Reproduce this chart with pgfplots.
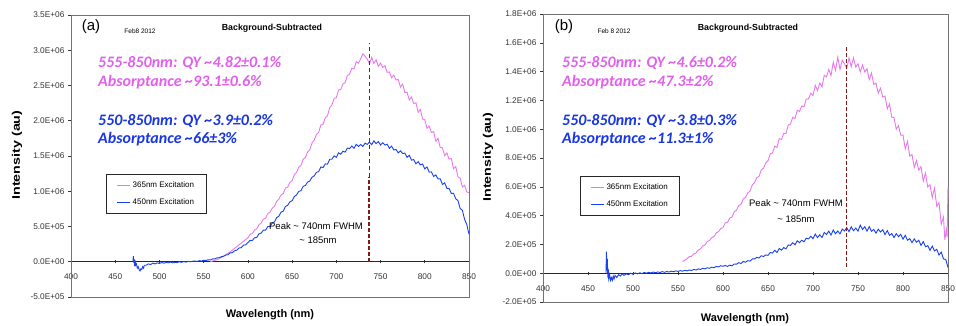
\documentclass[border=0pt]{standalone}
\usepackage{fontspec}
\setmainfont{Liberation Sans}
\newfontfamily\calibri{Carlito}
\usepackage{pgfplots}
\pgfplotsset{compat=1.18}
\definecolor{pinkline}{RGB}{232,120,236}
\definecolor{blueline}{RGB}{25,65,240}
\definecolor{pinktext}{RGB}{225,95,235}
\definecolor{bluetext}{RGB}{25,55,225}
\definecolor{darkred}{RGB}{130,25,25}
\pgfplotsset{
  panel/.style={
    scale only axis, clip=false,
    xmin=400, xmax=850,
    axis x line=middle, axis y line=left,
    axis line style={-, line width=0.9pt, black!85},
    hide obscured x ticks=false, hide obscured y ticks=false,
    xtick={400,450,500,550,600,650,700,750,800,850},
    xticklabels={400,450,500,550,600,650,700,750,800,850},
    tick label style={font=\fontsize{8.3}{9}\selectfont, text=black!80},
    xticklabel style={yshift=-7pt},
    xtick align=center, ytick align=outside, major tick length=3pt,
    tick style={black!80, line width=0.6pt},
    legend style={draw=black!85, line width=0.9pt, font=\fontsize{8}{9}\selectfont,
      inner xsep=10pt, inner ysep=5pt, row sep=6pt, cells={anchor=west}, fill=white},
    legend image code/.code={\draw[#1, line width=1.2pt] (0pt,0pt) -- (13pt,0pt);},
  }
}
\begin{document}
\begin{tikzpicture}
\useasboundingbox (0,0) rectangle (956pt,325pt);
% ---------------- panel (a) ----------------
\begin{axis}[panel, at={(71pt,28pt)}, anchor=south west, width=398pt, height=282pt,
  ymin=-0.5, ymax=3.5,
  ytick={-0.5,0,0.5,1,1.5,2,2.5,3,3.5},
  yticklabels={-5.0E+05,0.0E+00,5.0E+05,1.0E+06,1.5E+06,2.0E+06,2.5E+06,3.0E+06,3.5E+06},
  legend style={at={(rel axis cs:0.088,0.436)}, anchor=north west}]
\draw[black!55, line width=0.8pt] (rel axis cs:0,0) rectangle (rel axis cs:1,1);
\addplot[pinkline, line width=0.9pt] coordinates {
(557.5,0.00)(560,0.01)(562.5,0.02)(565,0.03)(567.5,0.045)(570,0.06)(572.5,0.08)(575,0.10)
(577.5,0.12)(580,0.14)(582.5,0.165)(585,0.19)(587.5,0.215)(590,0.24)(592.5,0.265)(595,0.29)
(597.5,0.315)(600,0.34)(602.5,0.39)(605,0.40)(607.5,0.45)(610,0.465)(612.5,0.525)(615,0.547)
(617.5,0.603)(620,0.618)(622.5,0.685)(625,0.701)(627.5,0.76)(630,0.785)(632.5,0.855)(635,0.887)
(637.5,0.948)(640,0.968)(642.5,1.045)(645,1.058)(647.5,1.126)(650,1.15)(652.5,1.234)(655,1.266)
(657.5,1.343)(660,1.364)(662.5,1.455)(665,1.478)(667.5,1.556)(670,1.59)(672.5,1.684)(675,1.726)
(677.5,1.808)(680,1.834)(682.5,1.94)(685,1.952)(687.5,2.044)(690,2.07)(692.5,2.186)(695,2.224)
(697.5,2.317)(700,2.326)(702.5,2.435)(705,2.442)(707.5,2.524)(710,2.54)(712.5,2.641)(715,2.664)
(717.5,2.742)(720,2.736)(722.5,2.84)(725,2.816)(727.5,2.877)(730,2.95)(732.5,2.913)(735,2.872)
(737.5,2.81)(740,2.90)(742.5,2.813)(745,2.866)(747.5,2.77)(750,2.818)(752.5,2.757)(755,2.78)
(757.5,2.686)(760,2.692)(762.5,2.61)(765,2.648)(767.5,2.577)(770,2.586)(772.5,2.478)(775,2.52)
(777.5,2.40)(780,2.405)(782.5,2.295)(785,2.335)(787.5,2.245)(790,2.255)(792.5,2.12)(795,2.16)
(797.5,2.025)(800,2.015)(802.5,1.895)(805,1.925)(807.5,1.835)(810,1.845)(812.5,1.71)(815,1.75)
(817.5,1.62)(820,1.615)(822.5,1.505)(825,1.545)(827.5,1.455)(830,1.465)(832.5,1.32)(835,1.35)
(837.5,1.205)(840,1.185)(842.5,1.06)(845,1.085)(847.5,0.99)(850,0.98)};
\addlegendentry{365nm Excitation}
\addplot[blueline, line width=0.9pt] coordinates {
(470,0.0)(470.5,0.08)(471,-0.02)(471.5,0.04)(472,-0.06)(472.5,0.02)(473,-0.05)(474,-0.03)
(475,-0.09)(476,-0.07)(477,-0.11)(478,-0.13)(479,-0.10)(480,-0.11)(481,-0.07)(482,-0.09)
(483,-0.05)(485,-0.05)(487.5,-0.03)(490,-0.04)(492.5,-0.02)(495,-0.03)(497.5,-0.015)(500,-0.025)
(502.5,-0.01)(505,-0.02)(507.5,-0.01)(510,-0.015)(512.5,-0.005)(515,-0.015)(517.5,-0.01)(520,-0.012)
(522.5,0.0)(525,-0.008)(527.5,0.002)(530,-0.005)(532.5,0.005)(535,0.0)(537.5,0.008)(540,0.01)
(542.5,0.005)(545,0.015)(547.5,0.01)(550,0.02)(552.5,0.018)(555,0.028)(557.5,0.025)(560,0.04)
(562.5,0.04)(565,0.055)(567.5,0.058)(570,0.072)(572.5,0.078)(575,0.095)(577.5,0.10)(580,0.125)
(582.5,0.13)(585,0.155)(587.5,0.165)(590,0.195)(592.5,0.20)(595,0.235)(597.5,0.24)(600,0.27)
(602.5,0.305)(605,0.301)(607.5,0.34)(610,0.345)(612.5,0.395)(615,0.407)(617.5,0.448)(620,0.448)
(622.5,0.50)(625,0.501)(627.5,0.55)(630,0.565)(632.5,0.625)(635,0.647)(637.5,0.703)(640,0.718)
(642.5,0.785)(645,0.801)(647.5,0.85)(650,0.865)(652.5,0.925)(655,0.947)(657.5,0.998)(660,1.008)
(662.5,1.07)(665,1.081)(667.5,1.13)(670,1.145)(672.5,1.20)(675,1.217)(677.5,1.268)(680,1.278)
(682.5,1.345)(685,1.335)(687.5,1.388)(690,1.385)(692.5,1.453)(695,1.455)(697.5,1.502)(700,1.48)
(702.5,1.545)(705,1.525)(707.5,1.568)(710,1.555)(712.5,1.613)(715,1.605)(717.5,1.642)(720,1.61)
(722.5,1.665)(725,1.635)(727.5,1.663)(730,1.635)(732.5,1.683)(735,1.665)(737.5,1.697)(740,1.66)
(742.5,1.715)(745,1.675)(747.5,1.705)(750,1.655)(752.5,1.688)(755,1.655)(757.5,1.667)(760,1.61)
(762.5,1.64)(765,1.585)(767.5,1.593)(770,1.545)(772.5,1.573)(775,1.535)(777.5,1.542)(780,1.48)
(782.5,1.51)(785,1.442)(787.5,1.449)(790,1.39)(792.5,1.421)(795,1.374)(797.5,1.387)(800,1.316)
(802.5,1.345)(805,1.272)(807.5,1.274)(810,1.21)(812.5,1.231)(815,1.174)(817.5,1.177)(820,1.096)
(822.5,1.12)(825,1.042)(827.5,1.039)(830,0.97)(832.5,0.971)(835,0.894)(837.5,0.867)(840,0.756)
(842.5,0.73)(845,0.602)(847.5,0.529)(850,0.39)};
\addlegendentry{450nm Excitation}
\addplot[forget plot, darkred, line width=1.8pt, dash pattern=on 4pt off 2pt] coordinates {(737,0) (737,1.2)};
\addplot[forget plot, darkred, line width=0.8pt, dash pattern=on 4pt off 3pt] coordinates {(737,1.2) (737,3.1)};
\end{axis}
% ---------------- panel (b) ----------------
\begin{axis}[panel, at={(543pt,23pt)}, anchor=south west, width=405pt, height=288pt,
  ymin=-0.2, ymax=1.8,
  ytick={-0.2,0,0.2,0.4,0.6,0.8,1,1.2,1.4,1.6,1.8},
  yticklabels={-2.0E+05,0.0E+00,2.0E+05,4.0E+05,6.0E+05,8.0E+05,1.0E+06,1.2E+06,1.4E+06,1.6E+06,1.8E+06},
  legend style={at={(rel axis cs:0.091,0.4375)}, anchor=north west}]
\draw[black!55, line width=0.8pt] (rel axis cs:0,0) rectangle (rel axis cs:1,1);
\addplot[pinkline, line width=0.9pt] coordinates {
(555,0.08)(557.5,0.09)(560,0.10)(562.5,0.115)(565,0.117)(567.5,0.134)(570,0.14)(572.5,0.161)
(575,0.169)(577.5,0.19)(580,0.196)(582.5,0.22)(585,0.227)(587.5,0.247)(590,0.255)(592.5,0.279)
(595,0.289)(597.5,0.31)(600,0.316)(602.5,0.35)(605,0.354)(607.5,0.383)(610,0.39)(612.5,0.427)
(615,0.438)(617.5,0.471)(620,0.477)(622.5,0.517)(625,0.524)(627.5,0.558)(630,0.57)(632.5,0.612)
(635,0.628)(637.5,0.664)(640,0.672)(642.5,0.717)(645,0.729)(647.5,0.765)(650,0.78)(652.5,0.829)
(655,0.836)(657.5,0.883)(660,0.874)(662.5,0.935)(665,0.928)(667.5,0.971)(670,0.97)(672.5,1.029)
(675,1.036)(677.5,1.083)(680,1.074)(682.5,1.132)(685,1.123)(687.5,1.161)(690,1.155)(692.5,1.209)
(695,1.211)(697.5,1.25)(700,1.234)(702.5,1.305)(705,1.269)(707.5,1.32)(710,1.295)(712.5,1.375)
(715,1.363)(717.5,1.415)(720,1.372)(722.5,1.465)(725,1.409)(727.5,1.50)(730,1.415)(732.5,1.48)
(735,1.453)(737.5,1.422)(740,1.495)(742.5,1.434)(745,1.495)(747.5,1.431)(750,1.455)(752.5,1.397)
(755,1.445)(757.5,1.398)(760,1.42)(762.5,1.344)(765,1.39)(767.5,1.311)(770,1.32)(772.5,1.25)
(775,1.285)(777.5,1.223)(780,1.23)(782.5,1.142)(785,1.175)(787.5,1.084)(790,1.08)(792.5,1.00)
(795,1.025)(797.5,0.958)(800,0.96)(802.5,0.864)(805,0.915)(807.5,0.813)(810,0.824)(812.5,0.735)
(815,0.782)(817.5,0.716)(820,0.74)(822.5,0.639)(825,0.695)(827.5,0.598)(830,0.614)(832.5,0.525)
(835,0.59)(837.5,0.465)(840,0.49)(842.5,0.34)(845,0.39)(846.5,0.23)(848,0.30)(849,0.25)(850,0.60)};
\addlegendentry{365nm Excitation}
\addplot[blueline, line width=0.9pt] coordinates {
(470,0.0)(470.5,0.15)(471,0.02)(471.5,0.10)(472,-0.03)(472.5,0.03)(473,-0.04)(474,-0.01)
(475,-0.05)(476,-0.03)(477,-0.05)(478,-0.02)(479,-0.04)(480,-0.015)(482,-0.03)(484,-0.01)
(486,-0.02)(488,-0.005)(490,-0.015)(492.5,-0.005)(495,-0.01)(497.5,0.0)(500,-0.008)(502.5,0.002)
(505,-0.005)(507.5,0.003)(510,-0.003)(512.5,0.005)(515,0.0)(517.5,0.006)(520,0.002)(522.5,0.008)
(525,0.003)(527.5,0.009)(530,0.005)(532.5,0.011)(535,0.006)(537.5,0.012)(540,0.008)(542.5,0.014)
(545,0.01)(547.5,0.016)(550,0.012)(552.5,0.018)(555,0.014)(557.5,0.02)(560,0.016)(562.5,0.022)
(565,0.019)(567.5,0.026)(570,0.022)(572.5,0.03)(575,0.026)(577.5,0.034)(580,0.03)(582.5,0.038)
(585,0.034)(587.5,0.042)(590,0.038)(592.5,0.047)(595,0.043)(597.5,0.052)(600,0.048)(602.5,0.054)
(605,0.047)(607.5,0.056)(610,0.051)(612.5,0.064)(615,0.063)(617.5,0.073)(620,0.067)(622.5,0.082)
(625,0.076)(627.5,0.087)(630,0.084)(632.5,0.099)(635,0.099)(637.5,0.11)(640,0.105)(642.5,0.121)
(645,0.116)(647.5,0.127)(650,0.124)(652.5,0.144)(655,0.14)(657.5,0.159)(660,0.144)(662.5,0.172)
(665,0.16)(667.5,0.178)(670,0.169)(672.5,0.196)(675,0.193)(677.5,0.212)(680,0.197)(682.5,0.225)
(685,0.212)(687.5,0.229)(690,0.218)(692.5,0.243)(695,0.238)(697.5,0.256)(700,0.24)(702.5,0.272)
(705,0.247)(707.5,0.267)(710,0.248)(712.5,0.283)(715,0.269)(717.5,0.292)(720,0.265)(722.5,0.30)
(725,0.274)(727.5,0.293)(730,0.273)(732.5,0.307)(735,0.293)(737.5,0.316)(740,0.288)(742.5,0.322)
(745,0.295)(747.5,0.313)(750,0.292)(752.5,0.334)(755,0.304)(757.5,0.323)(760,0.292)(762.5,0.323)
(765,0.291)(767.5,0.304)(770,0.278)(772.5,0.306)(775,0.286)(777.5,0.302)(780,0.268)(782.5,0.296)
(785,0.263)(787.5,0.275)(790,0.248)(792.5,0.275)(795,0.254)(797.5,0.27)(800,0.236)(802.5,0.263)
(805,0.229)(807.5,0.24)(810,0.212)(812.5,0.238)(815,0.215)(817.5,0.229)(820,0.193)(822.5,0.219)
(825,0.184)(827.5,0.191)(830,0.159)(832.5,0.188)(835,0.155)(837.5,0.166)(840,0.126)(842.5,0.146)
(845,0.099)(847.5,0.095)(850,0.04)};
\addlegendentry{450nm Excitation}
\addplot[forget plot, darkred, line width=1.4pt, dash pattern=on 4pt off 2pt] coordinates {(737,0.04) (737,1.58)};
\end{axis}
% ---------------- text ----------------
\begin{scope}[every node/.style={inner sep=0pt}]
% panel (a)
\node at (91pt,298pt) {\fontsize{15}{17}\selectfont (a)};
\node at (140pt,294pt) {\fontsize{6.5}{7}\selectfont Feb8 2012};
\node at (272pt,297pt) {\fontsize{8.8}{10}\selectfont\bfseries Background-Subtracted};
\node[anchor=base west, text=pinktext] at (98pt,258pt) {\calibri\bfseries\itshape\fontsize{16}{19}\selectfont 555-850nm: QY \textasciitilde4.82±0.1\%};
\node[anchor=base west, text=pinktext] at (98pt,239pt) {\calibri\bfseries\itshape\fontsize{16}{19}\selectfont Absorptance \textasciitilde93.1±0.6\%};
\node[anchor=base west, text=bluetext] at (98pt,200pt) {\calibri\bfseries\itshape\fontsize{16}{19}\selectfont 550-850nm: QY \textasciitilde3.9±0.2\%};
\node[anchor=base west, text=bluetext] at (98pt,182pt) {\calibri\bfseries\itshape\fontsize{16}{19}\selectfont Absorptance \textasciitilde66±3\%};
\node at (316pt,99pt) {\fontsize{9.5}{11}\selectfont Peak \textasciitilde{} 740nm FWHM};
\node at (318pt,85pt) {\fontsize{9.5}{11}\selectfont \textasciitilde{} 185nm};
\node[rotate=90] at (17pt,170pt) {\scalebox{1.3}[1]{\fontsize{11}{13}\selectfont\bfseries Intensity (au)}};
\node at (270pt,10pt) {\fontsize{11}{13}\selectfont\bfseries Wavelength (nm)};
% panel (b)
\node at (564pt,298pt) {\fontsize{15}{17}\selectfont (b)};
\node at (614pt,294pt) {\fontsize{6.5}{7}\selectfont Feb 8 2012};
\node at (748pt,297pt) {\fontsize{8.8}{10}\selectfont\bfseries Background-Subtracted};
\node[anchor=base west, text=pinktext] at (562pt,258pt) {\calibri\bfseries\itshape\fontsize{16}{19}\selectfont 555-850nm: QY \textasciitilde4.6±0.2\%};
\node[anchor=base west, text=pinktext] at (562pt,239pt) {\calibri\bfseries\itshape\fontsize{16}{19}\selectfont Absorptance \textasciitilde47.3±2\%};
\node[anchor=base west, text=bluetext] at (562pt,200pt) {\calibri\bfseries\itshape\fontsize{16}{19}\selectfont 550-850nm: QY \textasciitilde3.8±0.3\%};
\node[anchor=base west, text=bluetext] at (562pt,182pt) {\calibri\bfseries\itshape\fontsize{16}{19}\selectfont Absorptance \textasciitilde11.3±1\%};
\node at (796pt,122pt) {\fontsize{9.5}{11}\selectfont Peak \textasciitilde{} 740nm FWHM};
\node at (796pt,106pt) {\fontsize{9.5}{11}\selectfont \textasciitilde{} 185nm};
\node[rotate=90] at (488pt,168pt) {\scalebox{1.3}[1]{\fontsize{11}{13}\selectfont\bfseries Intensity (au)}};
\node at (745pt,6pt) {\fontsize{11}{13}\selectfont\bfseries Wavelength (nm)};
\end{scope}
\end{tikzpicture}
\end{document}
